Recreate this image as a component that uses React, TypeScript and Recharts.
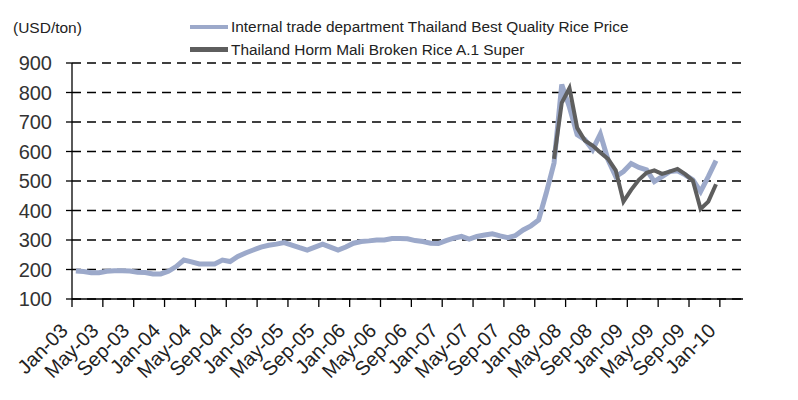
import React from 'react';
import { LineChart, Line, XAxis, YAxis, CartesianGrid, Legend } from 'recharts';

const FONT = '"Liberation Sans", Arial, sans-serif';
const LIGHT = '#9ca9ca';
const DARK = '#5e5e5e';

// x-axis tick labels (every 4 months, placed at month boundaries)
const tickLabels = [
  'Jan-03', 'May-03', 'Sep-03', 'Jan-04', 'May-04', 'Sep-04', 'Jan-05', 'May-05',
  'Sep-05', 'Jan-06', 'May-06', 'Sep-06', 'Jan-07', 'May-07', 'Sep-07', 'Jan-08',
  'May-08', 'Sep-08', 'Jan-09', 'May-09', 'Sep-09', 'Jan-10',
];

// Internal trade department Thailand Best Quality Rice Price, monthly Jan-03 .. Dec-09
const bestQuality = [
  195, 193, 189, 189, 194, 196, 196, 195, 191, 190, 185, 185,
  194, 210, 232, 226, 219, 219, 219, 232, 227, 244, 256, 266,
  276, 282, 286, 291, 283, 274, 266, 276, 286, 276, 266, 276,
  289, 295, 297, 300, 300, 305, 305, 304, 298, 295, 289, 288,
  298, 306, 312, 303, 312, 317, 321, 314, 308, 315, 334, 348,
  368, 460, 561, 827, 750, 657, 640, 606, 659, 572, 515, 532,
  559, 546, 538, 498, 515, 532, 535, 521, 504, 464, 515, 569,
];

// Thailand Horm Mali Broken Rice A.1 Super, monthly Mar-08 .. Dec-09
const hormMaliStart = 62; // month index of Mar-08
const hormMali = [
  575, 765, 815, 680, 637, 620, 597, 575, 536, 430,
  470, 504, 528, 536, 524, 532, 541, 523, 501, 405, 430, 489,
];

const yTicks = [100, 200, 300, 400, 500, 600, 700, 800, 900];
const xTicks = tickLabels.map((_, i) => i * 4);

const data = bestQuality.map((v, i) => ({
  t: i + 0.5,
  best: v,
  horm: i >= hormMaliStart ? hormMali[i - hormMaliStart] : null,
}));

const XTick = (props: any) => {
  const { x, y, payload } = props;
  const label = tickLabels[Math.round(payload.value / 4)];
  return (
    <g transform={`translate(${x - 3},${y + 25})`}>
      <text
        x={0}
        y={0}
        textAnchor="end"
        transform="rotate(-45)"
        style={{ fontSize: '20px', fontFamily: FONT, fill: '#222' }}
      >
        {label}
      </text>
    </g>
  );
};

const YTick = (props: any) => {
  const { x, y, payload } = props;
  return (
    <text x={x + 1} y={y + 7} textAnchor="end" style={{ fontSize: '20px', fontFamily: FONT, fill: '#333' }}>
      {payload.value}
    </text>
  );
};

const UnitLabel = () => (
  <text x={13} y={33} style={{ fontSize: '15.5px', fontFamily: FONT, fill: '#222' }}>(USD/ton)</text>
);

const LegendContent = () => (
  <div style={{ fontFamily: FONT, fontSize: 15.4, color: '#222', whiteSpace: 'nowrap' }}>
    <div style={{ display: 'flex', alignItems: 'center', height: 23 }}>
      <span style={{ display: 'inline-block', width: 38, height: 4, background: LIGHT, marginRight: 3 }} />
      <span>Internal trade department Thailand Best Quality Rice Price</span>
    </div>
    <div style={{ display: 'flex', alignItems: 'center', height: 23 }}>
      <span style={{ display: 'inline-block', width: 38, height: 5, background: DARK, marginRight: 3 }} />
      <span>Thailand Horm Mali Broken Rice A.1 Super</span>
    </div>
  </div>
);

export default function App() {
  return (
    <div style={{ position: 'absolute', left: 0, top: 0, width: 798, height: 400, background: '#fff' }}>
      <LineChart width={798} height={400} data={data} margin={{ top: 63, right: 55, bottom: 0, left: 0 }}>
        <CartesianGrid horizontal vertical={false} stroke="#000" strokeDasharray="9 6" strokeWidth={1.5} />
        <XAxis
          type="number"
          dataKey="t"
          domain={[0, 87]}
          ticks={xTicks}
          interval={0}
          height={101}
          tickSize={8}
          tickMargin={0}
          axisLine={{ stroke: '#000', strokeWidth: 1.3 }}
          tickLine={{ stroke: '#000', strokeWidth: 1.3 }}
          tick={<XTick />}
        />
        <YAxis
          type="number"
          domain={[100, 900]}
          ticks={yTicks}
          interval={0}
          width={72}
          tickSize={6}
          tickMargin={15}
          axisLine={{ stroke: '#000', strokeWidth: 1.3 }}
          tickLine={{ stroke: '#000', strokeWidth: 1.3 }}
          tick={<YTick />}
          label={<UnitLabel />}
        />
        <Legend
          layout="vertical"
          align="center"
          verticalAlign="middle"
          content={<LegendContent />}
          wrapperStyle={{ top: 15, left: 190, width: 480 }}
        />
        <Line
          type="linear"
          dataKey="best"
          name="Internal trade department Thailand Best Quality Rice Price"
          stroke={LIGHT}
          strokeWidth={5}
          dot={false}
          activeDot={false}
          isAnimationActive={false}
        />
        <Line
          type="linear"
          dataKey="horm"
          name="Thailand Horm Mali Broken Rice A.1 Super"
          stroke={DARK}
          strokeWidth={4}
          dot={false}
          activeDot={false}
          connectNulls={false}
          isAnimationActive={false}
        />
      </LineChart>
    </div>
  );
}
